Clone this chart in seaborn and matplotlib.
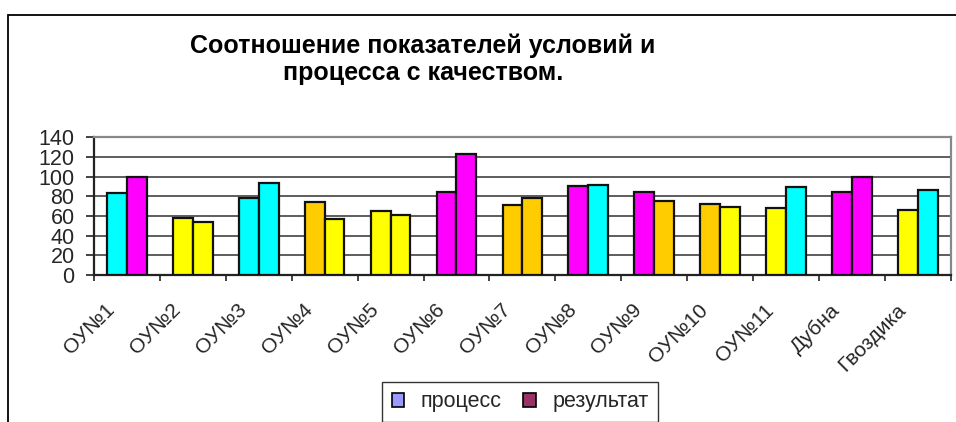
import numpy as np
import pandas as pd
import seaborn as sns
import matplotlib
matplotlib.use("Agg")
import matplotlib.pyplot as plt
from matplotlib.patches import Patch, Rectangle
from matplotlib.transforms import ScaledTranslation

categories = ["ОУ№1", "ОУ№2", "ОУ№3", "ОУ№4", "ОУ№5", "ОУ№6", "ОУ№7",
              "ОУ№8", "ОУ№9", "ОУ№10", "ОУ№11", "Дубна", "Гвоздика"]
process = [83, 58, 78, 74, 65, 84, 71, 90, 84, 72, 68, 84, 66]
result = [100, 54, 94, 57, 61, 123, 78, 92, 75, 69, 89, 100, 86]
series_names = ["процесс", "результат"]
y_ticks = [0, 20, 40, 60, 80, 100, 120, 140]
title = "Соотношение показателей условий и\nпроцесса с качеством."

# colours
CY, MG, YL, OR = "#00FFFF", "#FF00FF", "#FFFF00", "#FFCC00"
process_colors = [CY, YL, CY, OR, YL, MG, OR, MG, MG, OR, YL, MG, YL]
result_colors = [MG, YL, CY, YL, YL, MG, OR, CY, OR, YL, CY, MG, CY]
legend_colors = ["#9999FF", "#993366"]

sns.set_theme(style="white")
plt.rcParams["font.family"] = ["Liberation Sans", "DejaVu Sans"]

df = pd.DataFrame({
    "cat": categories * 2,
    "value": process + result,
    "series": [series_names[0]] * len(categories) + [series_names[1]] * len(categories),
})

fig = plt.figure(figsize=(9.56, 4.22), dpi=100)
fig.patch.set_facecolor("white")
ax = fig.add_axes([94 / 956, 1 - 275 / 422, (950.7 - 94) / 956, (275 - 137.3) / 422])

sns.barplot(data=df, x="cat", y="value", hue="series", palette=legend_colors,
            width=0.6, gap=0, edgecolor="black", linewidth=1.6, legend=False,
            order=categories, hue_order=series_names, ax=ax, zorder=3)

for cont, cols in zip(ax.containers, [process_colors, result_colors]):
    for bar, c in zip(cont, cols):
        bar.set_facecolor(c)
        bar.set_edgecolor("#111111")

ax.set_xlim(-0.5, len(categories) - 0.5)
ax.set_ylim(0, 140)
ax.set_yticks(y_ticks)
ax.set_xlabel("")
ax.set_ylabel("")
ax.yaxis.grid(True, color="#505050", linewidth=1.3)
ax.xaxis.grid(False)
ax.set_axisbelow(True)

for s in ["left", "bottom"]:
    ax.spines[s].set_color("#222222")
    ax.spines[s].set_linewidth(1.6)
for s in ["top", "right"]:
    ax.spines[s].set_color("#888888")
    ax.spines[s].set_linewidth(1.6)
    ax.spines[s].set_visible(True)

ax.tick_params(axis="y", which="major", direction="out", length=6, width=1.2,
               color="#222222", pad=8, labelsize=15.5, left=True)
ax.set_xticks(np.arange(-0.5, len(categories), 1.0), minor=True)
ax.tick_params(axis="x", which="minor", direction="out", length=4, width=1.2,
               color="#222222", bottom=True)
ax.tick_params(axis="x", which="major", length=0, pad=0, labelsize=15)

offset = ScaledTranslation(-0.15, -0.32, fig.dpi_scale_trans)
for lab in ax.get_xticklabels():
    lab.set_rotation(45)
    lab.set_ha("right")
    lab.set_va("center")
    lab.set_rotation_mode("anchor")
    lab.set_transform(lab.get_transform() + offset)

fig.text(423 / 956, 1 - 59 / 422, title, ha="center", va="center",
         fontsize=18, fontweight="bold", linespacing=1.15, color="black")

handles = [Patch(facecolor=c, edgecolor="black", linewidth=1.2, label=n)
           for c, n in zip(legend_colors, series_names)]
leg = fig.legend(handles=handles, loc="center", bbox_to_anchor=(520 / 956, 1 - 402 / 422),
                 ncol=2, frameon=True, fancybox=False, fontsize=15.5,
                 handlelength=0.6, handleheight=0.6, handletextpad=0.75,
                 columnspacing=1.0, borderpad=0.45)
leg.get_frame().set_edgecolor("black")
leg.get_frame().set_linewidth(1.0)

# outer chart border (extends beyond the right/bottom edge)
fig.patches.append(Rectangle((8 / 956, -0.5), 1.2, 0.5 + (1 - 15 / 422),
                             transform=fig.transFigure, fill=False,
                             edgecolor="black", linewidth=1.3, zorder=0))

fig.savefig("out.png", dpi=100)
